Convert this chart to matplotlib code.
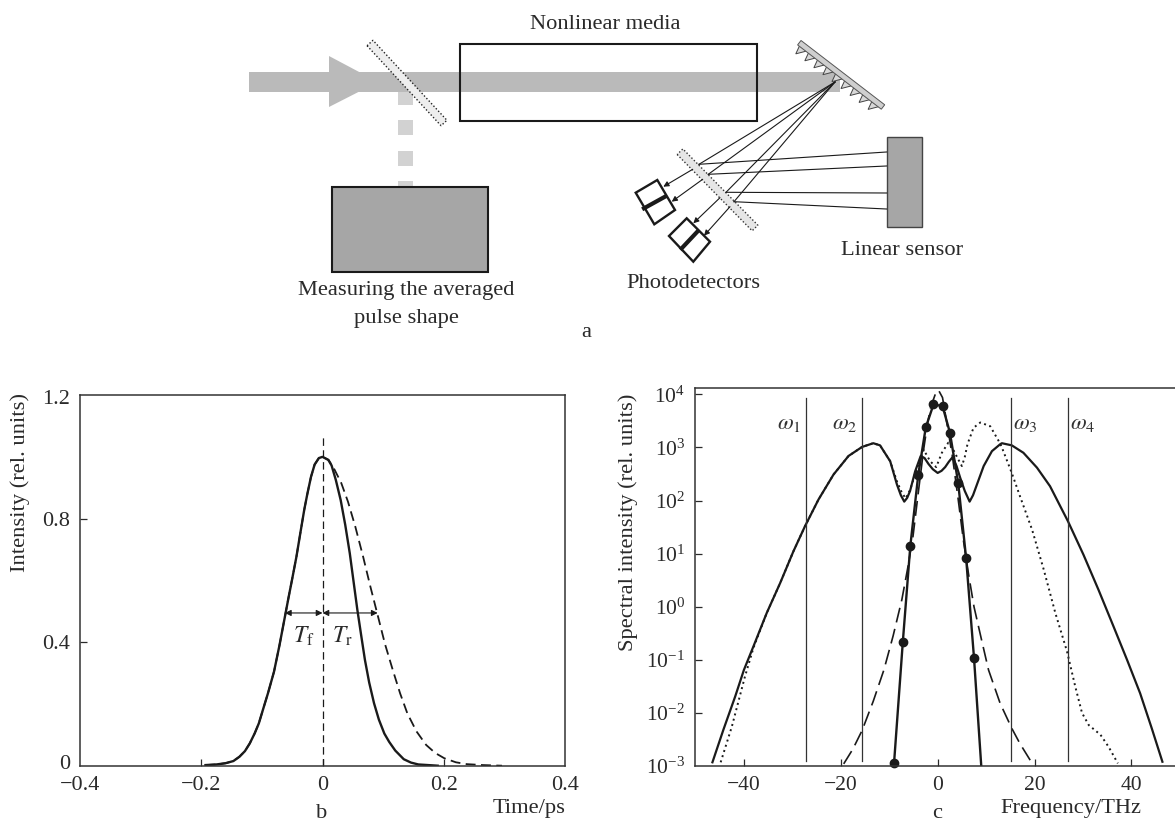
import numpy as np
import matplotlib
matplotlib.use('Agg')
import matplotlib.pyplot as plt
from matplotlib.patches import Polygon, Rectangle
from matplotlib.transforms import ScaledTranslation

plt.rcParams.update({
    'font.family': ['Liberation Serif', 'DejaVu Serif'],
    'mathtext.fontset': 'stix',
    'font.size': 16.2,
    'axes.linewidth': 1.1,
    'axes.edgecolor': '#333333',
    'text.color': '#2a2a2a',
    'xtick.color': '#2a2a2a',
    'ytick.color': '#2a2a2a',
})

W, H = 1175, 824
INK = '#1a1a1a'

# panel b: time (ps), intensity
t_left = [-0.193, -0.175, -0.16, -0.147, -0.137, -0.128, -0.12, -0.112, -0.105, -0.097, -0.09, -0.08, -0.071, -0.062,
          -0.056, -0.05, -0.043, -0.036, -0.03, -0.025, -0.019, -0.013, -0.006, 0.0]
i_left = [0.003, 0.005, 0.009, 0.016, 0.03, 0.048, 0.073, 0.105, 0.138, 0.19, 0.235, 0.305, 0.39, 0.483,
          0.545, 0.605, 0.677, 0.76, 0.83, 0.88, 0.935, 0.975, 0.996, 1.0]
t_solid_r = [0.0096, 0.015, 0.022, 0.03, 0.0375, 0.045, 0.051, 0.0575, 0.064, 0.07, 0.077, 0.085, 0.093, 0.102, 0.11,
             0.12, 0.134, 0.146, 0.158, 0.19]
i_solid_r = [0.99, 0.972, 0.925, 0.86, 0.78, 0.688, 0.6, 0.505, 0.42, 0.343, 0.27, 0.203, 0.15, 0.105, 0.078,
             0.05, 0.022, 0.011, 0.005, 0.001]
t_dash_r = [0.01, 0.02, 0.031, 0.042, 0.054, 0.067, 0.079, 0.091, 0.103, 0.116, 0.128, 0.14, 0.155, 0.171,
            0.186, 0.201, 0.22, 0.238, 0.265, 0.296]
i_dash_r = [0.99, 0.958, 0.915, 0.855, 0.775, 0.677, 0.58, 0.488, 0.395, 0.31, 0.235, 0.17, 0.112, 0.068,
            0.042, 0.025, 0.012, 0.006, 0.003, 0.001]
b_xticks = [-0.4, -0.2, 0, 0.2, 0.4]
b_xlabels = ['\u22120.4', '\u22120.2', '0', '0.2', '0.4']
b_yticks = [0, 0.4, 0.8, 1.2]
b_ylabels = ['0', '0.4', '0.8', '1.2']

# panel c: frequency (THz), log10 of spectral intensity
f_broad = [-46.5, -44.25, -41.8, -40, -38.05, -35.3, -32.5, -29.8, -27.4, -24.6, -21.5, -18.4, -15.6, -13.3, -11.9,
           -9.8, -8.4, -7.6, -6.9, -6.3, -5.7, -4.65, -3.5, -2.7, -1.9, -1, 0, 0.8, 1.55, 2.3, 3.1, 3.9, 4.65, 5.6, 6.6,
           7.3, 8.1, 9.5, 11.2, 12.9, 13.26, 15.3, 17.7, 20.5, 23.2, 26.9, 30.1, 33.2, 36.3, 39.1, 41.8, 44.2, 46.4]
l_broad = [-2.93, -2.32, -1.69, -1.19, -0.75, -0.12, 0.45, 1.04, 1.515, 2.02, 2.49, 2.84, 3.01, 3.08, 3.04,
           2.74, 2.3, 2.1, 1.98, 2.05, 2.18, 2.55, 2.84, 2.8, 2.69, 2.59, 2.52, 2.56, 2.63, 2.73, 2.82, 2.65, 2.43, 2.18, 1.98,
           2.1, 2.3, 2.65, 2.93, 3.06, 3.08, 3.04, 2.9, 2.62, 2.27, 1.61, 0.98, 0.32, -0.37, -1.0, -1.63, -2.29, -2.92]
f_dot = [-44.8, -42.5, -39.8, -38.05, -35.3, -32.5, -29.8, -27.4, -24.6, -21.5, -18.4, -15.6, -13.3, -11.9, -9.8, -8.4,
         -7.4, -6.6, -5.7, -4.8, -3.8, -2.9, -1.55, -0.3, 0.87, 2.2, 3.1, 4.1, 5, 5.6, 6.15, 7.4, 8.8, 10.85, 12.8, 13.26,
         15.3, 17, 19.5, 21.9, 24.3, 26.7, 28.4, 29.8, 31.2, 33.6, 35.3, 37.2]
l_dot = [-2.93, -2.26, -1.32, -0.78, -0.12, 0.45, 1.04, 1.515, 2.02, 2.49, 2.84, 3.01, 3.08, 3.04, 2.74, 2.36,
         2.15, 2.04, 2.2, 2.45, 2.72, 2.96, 2.74, 2.63, 2.9, 3.09, 2.98, 2.8, 2.65, 2.82, 3.06, 3.37, 3.47, 3.4, 3.09, 3.0,
         2.52, 2.08, 1.45, 0.7, -0.12, -0.84, -1.5, -2.0, -2.23, -2.41, -2.64, -2.95]
f_dash = [-19.4, -17.5, -15.6, -13.3, -11.1, -9.2, -7.4, -6.2, -5.1, -4, -2.9, -2.1, -1.4, -0.5, 0.17, 1, 1.6, 2.1, 3.05,
          4.2, 5.3, 6.4, 7.5, 9, 10.5, 12.9, 15.3, 17, 19.1]
l_dash = [-2.96, -2.68, -2.33, -1.78, -1.19, -0.55, 0.13, 0.72, 1.32, 2.15, 2.96, 3.45, 3.77, 4.0, 4.08, 3.94, 3.62, 3.35,
          2.83, 2.05, 1.26, 0.6, 0.0, -0.6, -1.19, -1.82, -2.29, -2.58, -2.89]
f_mark = [-9.0, -7.2, -5.65, -4.0, -2.45, -0.86, 1.0, 2.53, 4.24, 5.88, 7.5]
l_mark = [-2.94, -0.67, 1.14, 2.49, 3.38, 3.81, 3.78, 3.28, 2.33, 0.91, -0.96]
f_mark_end = 9.0
l_mark_end = -3.0
omega_f = [-27.2, -15.6, 15.2, 26.9]
omega_lab = [r'$\omega_1$', r'$\omega_2$', r'$\omega_3$', r'$\omega_4$']
omega_lab_f = [-30.6, -19.3, 18.1, 30.0]
c_xticks = [-40, -20, 0, 20, 40]
c_xlabels = ['\u221240', '\u221220', '0', '20', '40']
c_yexp = [-3, -2, -1, 0, 1, 2, 3, 4]

# panel a: diagram geometry in image pixels
beam_x = [249, 840]
beam_y = [72, 92]
arrow_head = [(329, 56), (378, 82), (329, 107)]
medium_box = (460, 44, 297, 77)
tap_dashes = [(92, 105), (120, 135), (151, 166), (181, 187)]
tap_x = (398, 412.5)
avg_box = (331.5, 187, 156.5, 85)
sensor_box = (886.5, 137, 35, 90)
split1 = [(370, 43), (444, 123)]
split2 = [(680, 151.7), (755, 228)]
grating = [(799.3, 42.7), (883, 107)]
focus = (835, 82)
ray_hits = [(699, 164.3), (708.3, 174.3), (726, 192.3), (734, 201.7)]
ray_sensor = [(886.5, 152), (886.5, 166), (886.5, 193), (886.5, 209)]
ray_out = [(692.7, 169.3), (702.7, 179.3), (720, 197.7), (730, 206.7)]
ray_det = [(663.3, 186.7), (671.7, 201.7), (693.3, 223.3), (704, 235.7)]
det1 = [(657.3, 180), (675, 210), (654.3, 224.3), (635.7, 192.7)]
det1_bar = [(644, 208.3), (665, 196.7)]
det2 = [(686.7, 218.3), (710, 241.7), (693.3, 261.7), (669, 236)]
det2_bar = [(681.7, 248.3), (697.3, 231.7)]

fig = plt.figure(figsize=(W / 100, H / 100), dpi=100, facecolor='white')


def px_axes(left, top, right, bottom):
    return fig.add_axes([left / W, 1 - bottom / H, (right - left) / W, (bottom - top) / H])


def band(ax, ends, half, **kw):
    (x0, y0), (x1, y1) = ends
    d = np.array([x1 - x0, y1 - y0], float)
    n = np.array([-d[1], d[0]]) / np.hypot(*d) * half
    a, b = np.array(ends[0]), np.array(ends[1])
    ax.add_patch(Polygon([a + n, b + n, b - n, a - n], closed=True, **kw))


def nudge(label, dy_px):
    label.set_transform(label.get_transform() + ScaledTranslation(0, dy_px / 100, fig.dpi_scale_trans))


# diagram
dg = fig.add_axes([0, 0, 1, 1])
dg.set_xlim(0, W)
dg.set_ylim(H, 0)
dg.axis('off')
dg.add_patch(Rectangle((beam_x[0], beam_y[0]), beam_x[1] - beam_x[0], beam_y[1] - beam_y[0], fc='#bababa', ec='none'))
dg.add_patch(Polygon(arrow_head, closed=True, fc='#bababa', ec='none'))
for y0, y1 in tap_dashes:
    dg.add_patch(Rectangle((tap_x[0], y0), tap_x[1] - tap_x[0], y1 - y0, fc='#d2d2d2', ec='none'))
dg.add_patch(Rectangle(medium_box[:2], medium_box[2], medium_box[3], fc='none', ec=INK, lw=1.5))
dg.add_patch(Rectangle(avg_box[:2], avg_box[2], avg_box[3], fc='#a6a6a6', ec=INK, lw=1.5))
dg.add_patch(Rectangle(sensor_box[:2], sensor_box[2], sensor_box[3], fc='#a6a6a6', ec='#444444', lw=1))
band(dg, split1, 4, fc='#eeeeee', ec='#222222', lw=1, ls=(0, (1, 1.5)))

# grating with teeth on the beam side
g0, g1 = np.array(grating[0], float), np.array(grating[1], float)
gd = (g1 - g0) / np.hypot(*(g1 - g0))
gn = np.array([-gd[1], gd[0]])
for k in range(9):
    p = g0 + gd * (k * 11.4 + 2)
    dg.add_patch(Polygon([p + gn * 2, p + gd * 9 + gn * 2, p + gd * 2 + gn * 11], closed=True,
                         fc='#d8d8d8', ec='#444444', lw=0.7))
band(dg, grating, 2.8, fc='#cfcfcf', ec='#555555', lw=0.7)

for hit, end, start, det in zip(ray_hits, ray_sensor, ray_out, ray_det):
    dg.plot([focus[0], hit[0]], [focus[1], hit[1]], color=INK, lw=0.8)
    dg.plot([hit[0], end[0]], [hit[1], end[1]], color=INK, lw=0.8)
    dg.annotate('', xy=det, xytext=start, arrowprops=dict(arrowstyle='-|>', color=INK, lw=0.8, mutation_scale=8,
                                                          shrinkA=0, shrinkB=0))
band(dg, split2, 4, fc='#e6e6e6', ec='#333333', lw=1, ls=(0, (1, 1.5)), zorder=1.5)
for poly, bar in ((det1, det1_bar), (det2, det2_bar)):
    dg.add_patch(Polygon(poly, closed=True, fc='white', ec=INK, lw=1.7, zorder=1))
    dg.plot(*zip(*bar), color=INK, lw=3)

dg.text(605, 24, 'Nonlinear media', ha='center', va='center')
dg.text(406.6, 291, 'Measuring the averaged', ha='center', va='center')
dg.text(406.6, 318, 'pulse shape', ha='center', va='center')
dg.text(586, 332, 'a', ha='center', va='center')
dg.text(693.6, 284, 'Photodetectors', ha='center', va='center')
dg.text(902.5, 250, 'Linear sensor', ha='center', va='center')
dg.text(322, 813, 'b', ha='center', va='center')
dg.text(937, 814, 'c', ha='center', va='center')
dg.text(529, 808, 'Time/ps', ha='center', va='center')
dg.text(1070.5, 808, 'Frequency/THz', ha='center', va='center')
dg.text(20, 483, 'Intensity (rel. units)', rotation=90, ha='center', va='center')
dg.text(628, 522, 'Spectral intensity (rel. units)', rotation=90, ha='center', va='center')

# panel b
ax = px_axes(80, 395, 565, 766)
ax.patch.set_alpha(0)
ax.plot(t_left + t_dash_r, i_left + i_dash_r, color=INK, lw=1.3, ls=(0, (5.5, 3)))
ax.plot(t_left + t_solid_r, i_left + i_solid_r, color=INK, lw=1.7)
ax.plot([0, 0], [0, 1.063], color=INK, lw=0.9, ls=(0, (6, 3.5)))
for x0, x1 in ((-0.062, 0), (0, 0.091)):
    ax.annotate('', xy=(x0, 0.495), xytext=(x1, 0.495),
                arrowprops=dict(arrowstyle='<|-|>', color=INK, lw=0.8, mutation_scale=9, shrinkA=0, shrinkB=0))
ax.text(-0.031, 0.42, r'$T_{\mathrm{f}}$', ha='center', va='center', fontsize=17)
ax.text(0.033, 0.42, r'$T_{\mathrm{r}}$', ha='center', va='center', fontsize=17)
ax.set_xlim(-0.4, 0.4)
ax.set_ylim(0, 1.2)
ax.set_xticks(b_xticks, b_xlabels)
ax.set_yticks(b_yticks, b_ylabels)
ax.tick_params(direction='in', length=5, width=0.9, labelsize=16, pad=7)
for i in (0, -1):
    ax.yaxis.get_major_ticks()[i].tick1line.set_visible(False)
    ax.xaxis.get_major_ticks()[i].tick1line.set_visible(False)
nudge(ax.get_yticklabels()[0], 4)
nudge(ax.get_yticklabels()[-1], -2)

# panel c
ax2 = px_axes(695, 388, 1175, 766)
ax2.patch.set_alpha(0)
ax2.set_yscale('log')
ax2.plot(f_dot, 10.0 ** np.array(l_dot), color=INK, lw=1.4, ls=(0, (1, 1.8)))
ax2.plot(f_dash, 10.0 ** np.array(l_dash), color=INK, lw=1.2, ls=(0, (9, 4)))
ax2.plot(f_broad, 10.0 ** np.array(l_broad), color=INK, lw=1.6)
ax2.plot(f_mark + [f_mark_end], 10.0 ** np.array(l_mark + [l_mark_end]), color=INK, lw=1.7)
ax2.plot(f_mark, 10.0 ** np.array(l_mark), 'o', color=INK, ms=6, clip_on=False)
for f, lab, fl in zip(omega_f, omega_lab, omega_lab_f):
    ax2.plot([f, f], [10 ** -2.9, 10 ** 3.93], color='#333333', lw=0.9)
    ax2.text(fl, 10 ** 3.46, lab, ha='center', va='center', fontsize=16.5, color='#333333')
ax2.set_xlim(-50.1, 49)
ax2.set_ylim(1e-3, 10 ** 4.12)
ax2.spines['right'].set_visible(False)
ax2.set_xticks(c_xticks, c_xlabels)
ax2.set_yticks([10.0 ** e for e in c_yexp], [f'$\\mathdefault{{10^{{{e}}}}}$'.replace('-', '\u2212') for e in c_yexp])
ax2.minorticks_off()
ax2.tick_params(direction='in', length=5, width=0.9, labelsize=15.5, pad=7)
ax2.yaxis.get_major_ticks()[0].tick1line.set_visible(False)

fig.savefig('out.png', dpi=100)
